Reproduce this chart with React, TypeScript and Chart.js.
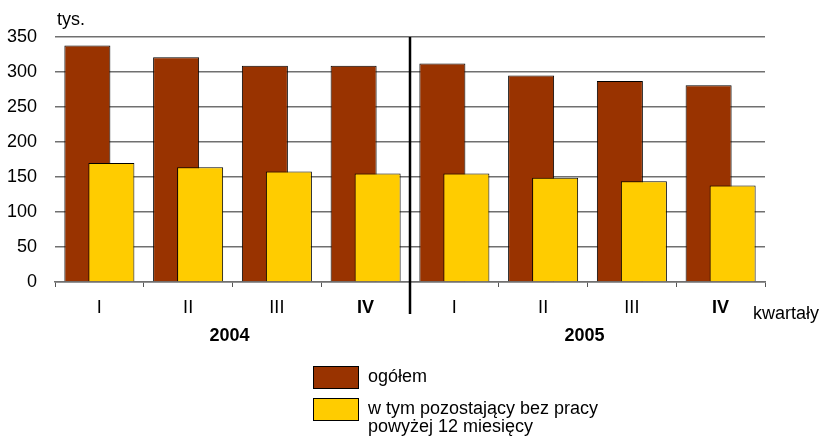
import React, { useEffect, useRef } from 'react';
import { Chart, registerables } from 'chart.js';

Chart.register(...registerables);

const FONT = '"Liberation Sans", Arial, sans-serif';

const quarters = ['I', 'II', 'III', 'IV', 'I', 'II', 'III', 'IV'];
const years = ['2004', '2005'];
const ogolem = [338, 321, 309, 309, 312, 295, 287, 281];
const dlugotrwale = [170, 164, 158, 155, 155, 149, 144, 138];
const seriesNames = ['ogółem', 'w tym pozostający bez pracy\npowyżej 12 miesięcy'];
const seriesColors = ['#993300', '#FFCC00'];
const yUnit = 'tys.';
const xUnit = 'kwartały';

// draw the first dataset underneath the second (overlapping bars)
const drawOrder = {
  id: 'drawOrder',
  beforeDatasetDraw(chart: any, args: any) {
    if (args.index === 1) {
      chart.getDatasetMeta(0).controller.draw();
      return true;
    }
    if (args.index === 0) return false;
    return true;
  },
};

const extras = {
  id: 'extras',
  afterDraw(chart: any) {
    const { ctx, chartArea, scales } = chart;
    const x = scales.x;
    ctx.save();
    const sx = (x.getPixelForValue(3) + x.getPixelForValue(4)) / 2;
    ctx.strokeStyle = '#000';
    ctx.lineWidth = 2.5;
    ctx.beginPath();
    ctx.moveTo(sx, chartArea.top);
    ctx.lineTo(sx, chartArea.bottom + 32);
    ctx.stroke();

    ctx.fillStyle = '#000';
    ctx.textBaseline = 'middle';
    ctx.font = `bold 18px ${FONT}`;
    ctx.textAlign = 'center';
    years.forEach((yr, i) => {
      const cx = (x.getPixelForValue(i * 4) + x.getPixelForValue(i * 4 + 3)) / 2;
      ctx.fillText(yr, cx - 3, chartArea.bottom + 54);
    });
    ctx.font = `18px ${FONT}`;
    ctx.textAlign = 'left';
    ctx.fillText(yUnit, chartArea.left + 2, 20);
    ctx.fillText(xUnit, 753, chartArea.bottom + 32);

    const bx = 313, bw = 46, bh = 23;
    const rows = [366, 398];
    seriesNames.forEach((name, i) => {
      const by = rows[i];
      ctx.fillStyle = seriesColors[i];
      ctx.fillRect(bx, by, bw, bh);
      ctx.strokeStyle = '#000';
      ctx.lineWidth = 1;
      ctx.strokeRect(bx + 0.5, by + 0.5, bw - 1, bh - 1);
      ctx.fillStyle = '#000';
      name.split('\n').forEach((ln, j) => {
        ctx.fillText(ln, 368, by + 11 + j * 18);
      });
    });
    ctx.restore();
  },
};

export default function App() {
  const ref = useRef<HTMLCanvasElement>(null);
  useEffect(() => {
    if (!ref.current) return;
    const chart = new Chart(ref.current, {
      type: 'bar',
      data: {
        labels: quarters,
        datasets: [
          {
            label: seriesNames[0],
            data: ogolem,
            backgroundColor: seriesColors[0],
            borderColor: '#000',
            borderWidth: 1,
            categoryPercentage: 0.541,
            barPercentage: 1.917,
          },
          {
            label: seriesNames[1],
            data: dlugotrwale,
            backgroundColor: seriesColors[1],
            borderColor: '#000',
            borderWidth: 1,
            categoryPercentage: 0.541,
            barPercentage: 1.917,
          },
        ],
      },
      options: {
        responsive: false,
        animation: false,
        devicePixelRatio: 1,
        layout: { padding: { left: 0, right: 56, top: 37, bottom: 118 } },
        plugins: {
          legend: { display: false },
          tooltip: { enabled: false },
        },
        scales: {
          x: {
            grid: {
              display: true,
              drawOnChartArea: false,
              drawTicks: true,
              tickLength: 5,
              color: '#555',
              offset: true,
            },
            border: { display: true, color: '#707070', width: 1.5 },
            ticks: {
              color: '#000',
              padding: 10,
              font: (c: any) => ({
                size: 18,
                family: FONT,
                weight: quarters[c.index] === 'IV' ? 'bold' : 'normal',
              }),
            },
            afterFit: (s: any) => {
              s.height = 40;
            },
          },
          y: {
            min: 0,
            max: 350,
            ticks: {
              stepSize: 50,
              color: '#000',
              padding: 18,
              font: { size: 18, family: FONT },
            },
            grid: { color: '#707070', lineWidth: 1.5, drawTicks: false },
            border: { display: false },
            afterFit: (s: any) => {
              s.width = 55;
            },
          },
        },
      },
      plugins: [drawOrder, extras],
    });
    return () => chart.destroy();
  }, []);
  return (
    <div style={{ position: 'fixed', left: 0, top: 0, width: 821, height: 440, background: '#fff' }}>
      <canvas ref={ref} width={821} height={440} />
    </div>
  );
}
